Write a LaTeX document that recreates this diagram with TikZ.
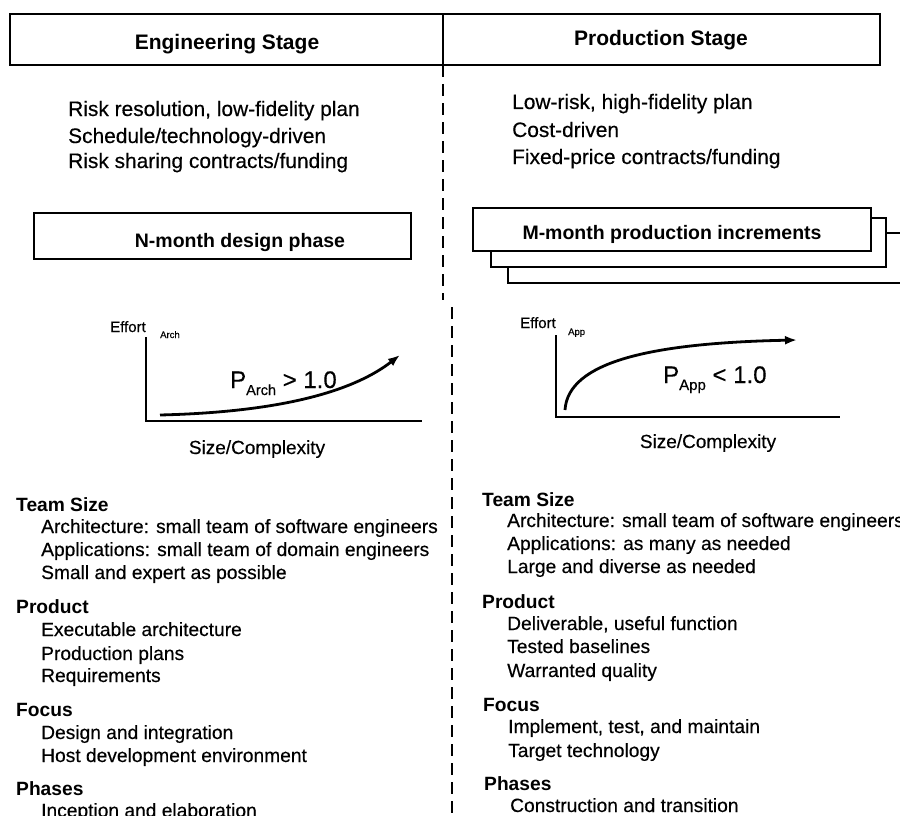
\documentclass[tikz,border=0pt]{standalone}
\usepackage{fontspec}
\setmainfont{Liberation Sans}[UprightFeatures={FakeBold=0.35}]
\usetikzlibrary{arrows.meta}
% lowered subscript: drop, size, text
\newcommand\lowsub[3]{\raisebox{-#1}{\fontsize{#2}{#2}\selectfont #3}}
\begin{document}
\begin{tikzpicture}[x=1pt,y=-1pt,
  frame/.style={draw=black,line width=1.8pt},
  pane/.style={draw=black,line width=1.8pt,fill=white},
  divider/.style={line width=1.6pt,dash pattern=on 12pt off 7pt},
  axis/.style={line width=1.5pt},
  growth/.style={line width=2.8pt,-{Latex[length=12pt,width=9pt]}},
  lbl/.style={inner sep=0pt,anchor=base west},
  stagehead/.style={inner sep=0pt,anchor=base,font=\fontsize{21}{24}\selectfont\bfseries},
  trait/.style={lbl,font=\fontsize{20.9}{24}\selectfont},
  boxtitle/.style={inner sep=0pt,anchor=base,font=\fontsize{19.5}{23}\selectfont\bfseries},
  topic/.style={lbl,font=\fontsize{19.2}{22}\selectfont\bfseries},
  item/.style={lbl,font=\fontsize{19.2}{22}\selectfont},
  axlabel/.style={inner sep=0pt,anchor=base,font=\fontsize{19}{22}\selectfont},
  effort/.style={lbl,font=\fontsize{15}{17}\selectfont},
  effsub/.style={lbl,font=\fontsize{9.5}{11}\selectfont},
  ratio/.style={lbl,font=\fontsize{24}{27}\selectfont}]
\useasboundingbox (0,0) rectangle (900,816);

% ---- stage header ----
\draw[frame] (10,14) rectangle (880,65);
\coordinate (hdtop) at (443,14);
\coordinate (hdbot) at (443,65);
\draw[line width=1.6pt] (hdtop) -- (hdbot);
\node[stagehead] (eng) at (227,50) {Engineering Stage};
\node[stagehead] (prod) at (661,46) {Production Stage};

% ---- dashed split between the stages ----
\coordinate (splitA) at (443,300);
\coordinate (splitB) at (452,307);
\coordinate (splitC) at (452,816);
\draw[divider] (hdbot) -- (splitA);
\draw[divider] (splitB) -- (splitC);

% ---- stage characteristics ----
\node[trait] (e1) at (68,116) {Risk resolution, low-fidelity plan};
\node[trait] (e2) at (68,143) {Schedule/technology-driven};
\node[trait] (e3) at (68,168) {Risk sharing contracts/funding};
\node[trait] (p1) at (512,109) {Low-risk, high-fidelity plan};
\node[trait] (p2) at (512,137) {Cost-driven};
\node[trait] (p3) at (512,164) {Fixed-price contracts/funding};

% ---- phase boxes ----
\draw[frame] (34,213) rectangle (411,259);
\node[boxtitle] (design) at (240,247) {N-month design phase};
\draw[pane] (508,233) rectangle (906,283);
\draw[pane] (491,218) rectangle (886,267);
\draw[pane] (473,208) rectangle (871,251);
\node[boxtitle] (incr) at (672,239) {M-month production increments};

% ---- architecture effort curve ----
\coordinate (aO) at (146,421);
\coordinate (aY) at (146,337);
\coordinate (aX) at (422,421);
\draw[axis] (aY) -- (aO) -- (aX);
\node[effort] (aeff) at (110,332) {Effort};
\node[effsub] (aeffs) at (160,338) {Arch};
\coordinate (ac0) at (160,415);
\coordinate (ac1) at (400,355);
\draw[growth] (ac0) .. controls (285,412) and (355,390) .. (ac1);
\node[ratio] (ap) at (230,388) {P\lowsub{7pt}{14.5}{Arch} {>} 1.0};
\node[axlabel] (asize) at (257,454) {Size/Complexity};

% ---- application effort curve ----
\coordinate (bO) at (556,417);
\coordinate (bY) at (556,335);
\coordinate (bX) at (840,417);
\draw[axis] (bY) -- (bO) -- (bX);
\node[effort] (beff) at (520,328) {Effort};
\node[effsub] (beffs) at (568,335) {App};
\coordinate (bc0) at (565,410);
\coordinate (bc1) at (797,340);
\draw[growth] (bc0) .. controls (568,362) and (650,343) .. (bc1);
\node[ratio] (bp) at (663,383) {P\lowsub{7pt}{15}{App} {<} 1.0};
\node[axlabel] (bsize) at (708,448) {Size/Complexity};

% ---- engineering stage details ----
\node[topic] (et) at (16,511) {Team Size};
\node[item] (et1) at (41,533) {Architecture: small team of software engineers};
\node[item] (et2) at (41,556) {Applications: small team of domain engineers};
\node[item] (et3) at (41,579) {Small and expert as possible};
\node[topic] (ep) at (16,613) {Product};
\node[item] (ep1) at (41,636) {Executable architecture};
\node[item] (ep2) at (41,660) {Production plans};
\node[item] (ep3) at (41,682) {Requirements};
\node[topic] (ef) at (16,716) {Focus};
\node[item] (ef1) at (41,739) {Design and integration};
\node[item] (ef2) at (41,762) {Host development environment};
\node[topic] (eph) at (16,795) {Phases};
\node[item] (eph1) at (41,817) {Inception and elaboration};

% ---- production stage details ----
\node[topic] (pt) at (482,506) {Team Size};
\node[item] (pt1) at (507,527) {Architecture: small team of software engineers};
\node[item] (pt2) at (507,550) {Applications: as many as needed};
\node[item] (pt3) at (507,573) {Large and diverse as needed};
\node[topic] (pp) at (482,608) {Product};
\node[item] (pp1) at (507,630) {Deliverable, useful function};
\node[item] (pp2) at (507,653) {Tested baselines};
\node[item] (pp3) at (507,677) {Warranted quality};
\node[topic] (pf) at (483,711) {Focus};
\node[item] (pf1) at (508,733) {Implement, test, and maintain};
\node[item] (pf2) at (508,757) {Target technology};
\node[topic] (pph) at (484,790) {Phases};
\node[item] (pph1) at (510,812) {Construction and transition};
\end{tikzpicture}
\end{document}
